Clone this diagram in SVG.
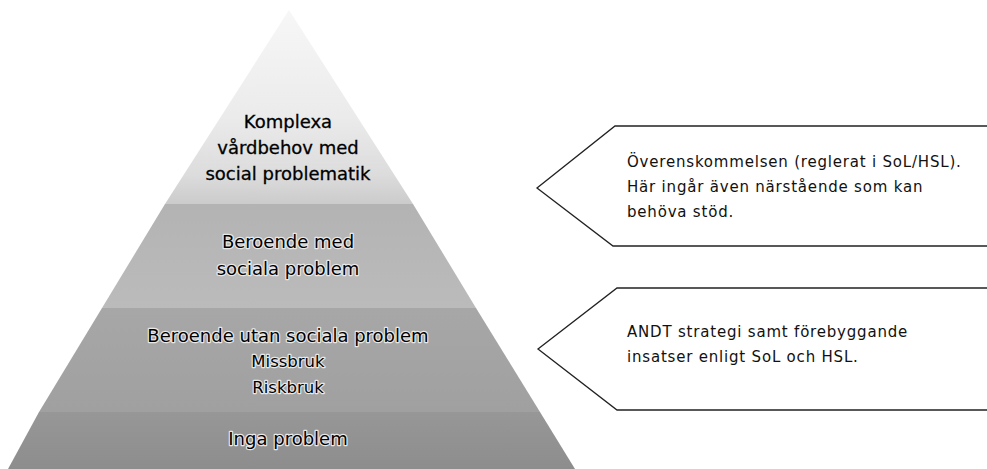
<svg xmlns="http://www.w3.org/2000/svg" width="987" height="469" viewBox="0 0 987 469">
  <defs>
    <linearGradient id="gTop" x1="0" y1="10" x2="0" y2="204" gradientUnits="userSpaceOnUse">
      <stop offset="0" stop-color="#f7f7f7"/>
      <stop offset="0.55" stop-color="#ebebeb"/>
      <stop offset="0.85" stop-color="#dcdcdc"/>
      <stop offset="1" stop-color="#cbcbcb"/>
    </linearGradient>
    <linearGradient id="gL2" x1="0" y1="204" x2="0" y2="308" gradientUnits="userSpaceOnUse">
      <stop offset="0" stop-color="#b3b3b3"/>
      <stop offset="1" stop-color="#bbbbbb"/>
    </linearGradient>
    <linearGradient id="gL3" x1="0" y1="308" x2="0" y2="412" gradientUnits="userSpaceOnUse">
      <stop offset="0" stop-color="#a7a7a7"/>
      <stop offset="1" stop-color="#a0a0a0"/>
    </linearGradient>
    <linearGradient id="gL4" x1="0" y1="412" x2="0" y2="469" gradientUnits="userSpaceOnUse">
      <stop offset="0" stop-color="#979797"/>
      <stop offset="1" stop-color="#8d8d8d"/>
    </linearGradient>
  </defs>
  <style>
    .lbl { font-family: "DejaVu Sans", "Liberation Sans", sans-serif; font-size: 18px; fill: #000; text-anchor: middle; stroke: #000; stroke-width: 0.3px; }
    .halo { stroke: #e8e8e8; stroke-width: 2.4px; paint-order: stroke; stroke-linejoin: round; }
    .small { font-size: 16.5px; }
    .note { font-family: "DejaVu Sans", "Liberation Sans", sans-serif; font-size: 15px; letter-spacing: 0.8px; fill: #111; }
    .callout { fill: #ffffff; stroke: #222; stroke-width: 1.3px; }
  </style>
  <rect width="987" height="469" fill="#ffffff"/>

  <g id="layer-komplexa">
    <polygon points="289,10 413,204 165,204" fill="url(#gTop)"/>
    <text class="lbl" x="288" y="128">Komplexa</text>
    <text class="lbl" x="288" y="154">vårdbehov med</text>
    <text class="lbl" x="288" y="180">social problematik</text>
  </g>

  <g id="layer-beroende-med">
    <polygon points="165,204 413,204 476,308 102,308" fill="url(#gL2)"/>
    <text class="lbl halo" x="288" y="248">Beroende med</text>
    <text class="lbl halo" x="288" y="275">sociala problem</text>
  </g>

  <g id="layer-beroende-utan">
    <polygon points="102,308 476,308 540,412 39,412" fill="url(#gL3)"/>
    <text class="lbl halo" x="288" y="342">Beroende utan sociala problem</text>
    <text class="lbl halo small" x="288" y="367">Missbruk</text>
    <text class="lbl halo small" x="288" y="393">Riskbruk</text>
  </g>

  <g id="layer-inga">
    <polygon points="39,412 540,412 575,469 8,469" fill="url(#gL4)"/>
    <text class="lbl halo" x="288" y="445">Inga problem</text>
  </g>

  <g id="connectors">
    <g id="callout-overenskommelsen">
      <polyline class="callout" points="990,126 615,126 537,188 613,246 990,246"/>
      <text class="note" x="627" y="167">Överenskommelsen (reglerat i SoL/HSL).</text>
      <text class="note" x="627" y="192">Här ingår även närstående som kan</text>
      <text class="note" x="627" y="217">behöva stöd.</text>
    </g>
    <g id="callout-andt">
      <polyline class="callout" points="990,288 617,288 538,349 617,410 990,410"/>
      <text class="note" x="627" y="337">ANDT strategi samt förebyggande</text>
      <text class="note" x="627" y="362">insatser enligt SoL och HSL.</text>
    </g>
  </g>
</svg>
